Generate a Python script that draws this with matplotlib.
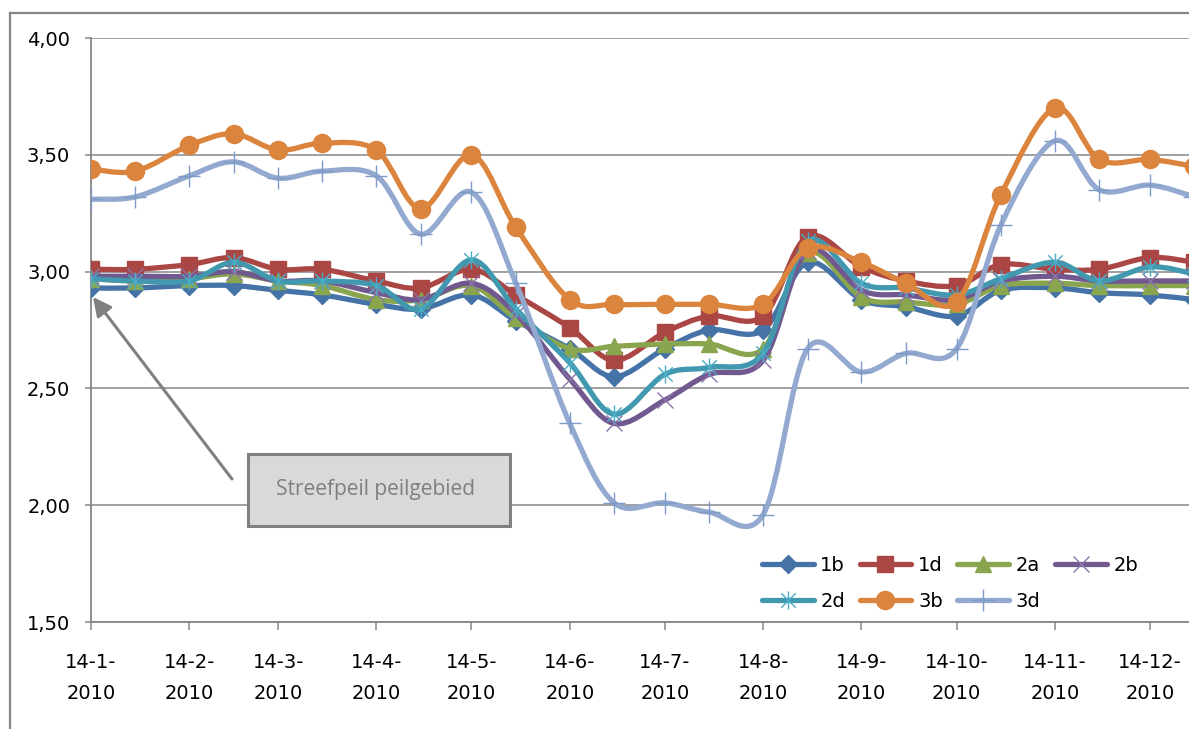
import numpy as np
import matplotlib
matplotlib.use("Agg")
import matplotlib.pyplot as plt
import matplotlib.dates as mdates
from matplotlib.path import Path
from matplotlib.patches import PathPatch, Rectangle
from matplotlib.lines import Line2D
from datetime import datetime, timedelta

# Measurement dates (14th and end of each month)
dates = ["2010-01-14", "2010-01-28", "2010-02-14", "2010-02-28", "2010-03-14", "2010-03-28",
         "2010-04-14", "2010-04-28", "2010-05-14", "2010-05-28", "2010-06-14", "2010-06-28",
         "2010-07-14", "2010-07-28", "2010-08-14", "2010-08-28", "2010-09-14", "2010-09-28",
         "2010-10-14", "2010-10-28", "2010-11-14", "2010-11-28", "2010-12-14", "2010-12-28"]

# Water levels per measuring point
level_1b = [2.93, 2.93, 2.94, 2.94, 2.92, 2.90, 2.86, 2.84, 2.90, 2.79, 2.67, 2.55,
            2.67, 2.75, 2.75, 3.04, 2.88, 2.85, 2.81, 2.92, 2.93, 2.91, 2.90, 2.88]
level_1d = [3.01, 3.01, 3.03, 3.06, 3.01, 3.01, 2.96, 2.93, 3.01, 2.90, 2.76, 2.62,
            2.74, 2.81, 2.81, 3.15, 3.02, 2.96, 2.94, 3.03, 3.01, 3.01, 3.06, 3.04]
level_2a = [2.97, 2.96, 2.97, 2.99, 2.96, 2.94, 2.88, 2.88, 2.94, 2.80, 2.67, 2.68,
            2.69, 2.69, 2.67, 3.08, 2.89, 2.87, 2.86, 2.94, 2.95, 2.94, 2.94, 2.94]
level_2b = [2.98, 2.98, 2.98, 3.00, 2.96, 2.96, 2.91, 2.88, 2.95, 2.82, 2.54, 2.35,
            2.45, 2.56, 2.62, 3.09, 2.92, 2.90, 2.88, 2.96, 2.98, 2.96, 2.96, 2.96]
level_2d = [2.97, 2.96, 2.96, 3.04, 2.96, 2.96, 2.94, 2.84, 3.05, 2.84, 2.61, 2.39,
            2.56, 2.59, 2.65, 3.13, 2.95, 2.93, 2.90, 2.97, 3.04, 2.96, 3.02, 2.99]
level_3b = [3.44, 3.43, 3.54, 3.59, 3.52, 3.55, 3.52, 3.27, 3.50, 3.19, 2.88, 2.86,
            2.86, 2.86, 2.86, 3.10, 3.04, 2.95, 2.87, 3.33, 3.70, 3.48, 3.48, 3.45]
level_3d = [3.31, 3.32, 3.41, 3.47, 3.40, 3.43, 3.41, 3.16, 3.34, 2.95, 2.35, 2.01,
            2.01, 1.97, 1.96, 2.67, 2.57, 2.65, 2.67, 3.20, 3.56, 3.35, 3.37, 3.32]

series_names = ["1b", "1d", "2a", "2b", "2d", "3b", "3d"]
tick_dates = ["2010-%02d-14" % m for m in range(1, 13)]
y_ticks = [1.50, 2.00, 2.50, 3.00, 3.50, 4.00]
callout_text = "Streefpeil peilgebied"

# Asterisk marker: vertical stroke plus two diagonals
star_path = Path(
    [(0, -1), (0, 1), (-0.8, -0.8), (0.8, 0.8), (-0.8, 0.8), (0.8, -0.8)],
    [Path.MOVETO, Path.LINETO, Path.MOVETO, Path.LINETO, Path.MOVETO, Path.LINETO])

styles = {
    "1b": dict(color="#4572A7", marker="D", ms=9.5, mfc="#4572A7", mec="#4572A7", mew=1),
    "1d": dict(color="#AA4643", marker="s", ms=12, mfc="#AA4643", mec="#AA4643", mew=1),
    "2a": dict(color="#89A54E", marker="^", ms=12, mfc="#89A54E", mec="#89A54E", mew=1),
    "2b": dict(color="#71588F", marker="x", ms=12, mfc="none", mec="#8A74AA", mew=1.0),
    "2d": dict(color="#4198AF", marker=star_path, ms=13, mfc="none", mec="#4AACC6", mew=1.0),
    "3b": dict(color="#DB843D", marker="o", ms=13, mfc="#DB843D", mec="#DB843D", mew=1),
    "3d": dict(color="#93A9CF", marker="+", ms=16, mfc="none", mec="#7E9BC8", mew=1.0),
}
values = {"1b": level_1b, "1d": level_1d, "2a": level_2a, "2b": level_2b,
          "2d": level_2d, "3b": level_3b, "3d": level_3d}

GRAY = "#868686"
LW = 3.8
FS = 14
plt.rcParams["font.family"] = ["DejaVu Sans"]

W, H = 1189, 729
fig = plt.figure(figsize=(W / 100, H / 100), dpi=100)
ax = fig.add_axes([91 / W, (H - 622) / H, (W - 91) / W, (622 - 38) / H])


def smooth_path(xs, ys):
    """Cubic Bezier path through the points (Catmull-Rom style tangents)."""
    pts = np.column_stack([xs, ys])
    n = len(pts)
    verts = [pts[0]]
    codes = [Path.MOVETO]
    for i in range(n - 1):
        p0 = pts[i - 1] if i > 0 else pts[i]
        p1, p2 = pts[i], pts[i + 1]
        p3 = pts[i + 2] if i + 2 < n else pts[i + 1]
        verts += [p1 + (p2 - p0) / 6, p2 - (p3 - p1) / 6, p2]
        codes += [Path.CURVE4] * 3
    return Path(verts, codes)


x = mdates.date2num([datetime.strptime(d, "%Y-%m-%d") for d in dates])
handles = {}
for k, name in enumerate(series_names):
    st = styles[name]
    y = np.asarray(values[name])
    patch = PathPatch(smooth_path(x, y), facecolor="none", edgecolor=st["color"],
                      lw=LW, capstyle="round", joinstyle="round", zorder=3 + 2 * k)
    ax.add_patch(patch)
    ax.plot(x, y, linestyle="none", marker=st["marker"], ms=st["ms"],
            mfc=st["mfc"], mec=st["mec"], mew=st["mew"], zorder=4 + 2 * k)
    handles[name] = Line2D([], [], color=st["color"], lw=LW, marker=st["marker"],
                           ms=st["ms"], mfc=st["mfc"], mec=st["mec"], mew=st["mew"],
                           solid_capstyle="round")

start = datetime(2010, 1, 14)
ax.set_xlim(mdates.date2num(start), mdates.date2num(start + timedelta(days=346.3)))
ax.set_ylim(1.5, 4.0)

tick_dt = [datetime.strptime(d, "%Y-%m-%d") for d in tick_dates]
ax.set_xticks(mdates.date2num(tick_dt))
ax.set_xticklabels(["%d-%d-\n%d" % (t.day, t.month, t.year) for t in tick_dt],
                   linespacing=1.85)
ax.set_yticks(y_ticks)
ax.set_yticklabels([("%.2f" % v).replace(".", ",") for v in y_ticks])

ax.tick_params(axis="x", direction="out", length=6, width=1.1, color=GRAY,
               labelsize=FS, pad=16)
ax.tick_params(axis="y", direction="out", length=4.5, width=1.1, color=GRAY,
               labelsize=FS, pad=10.5)

for spine in ("top", "right"):
    ax.spines[spine].set_visible(False)
for spine in ("left", "bottom"):
    ax.spines[spine].set_color(GRAY)
    ax.spines[spine].set_linewidth(1.3)

ax.yaxis.grid(True, color=GRAY, lw=1.1)
ax.set_axisbelow(True)
ax.set_facecolor("none")

# Legend laid out row-wise in two rows of four
order = ["1b", "2d", "1d", "3b", "2a", "3d", "2b"]
leg = ax.legend([handles[n] for n in order], order, ncol=4, frameon=False,
                loc="upper left", bbox_to_anchor=(762 / W, 1 - 556 / H),
                bbox_transform=fig.transFigure, fontsize=FS, borderpad=0,
                borderaxespad=0, handlelength=2.65, handletextpad=0.35,
                columnspacing=0.75, labelspacing=0.85)

# Outer chart border (left and top edges)
fig.add_artist(Line2D([9.5 / W, 9.5 / W], [0, 1 - 13 / H], transform=fig.transFigure,
                      color=GRAY, lw=1.6))
fig.add_artist(Line2D([9.5 / W, 1], [1 - 13 / H, 1 - 13 / H], transform=fig.transFigure,
                      color=GRAY, lw=1.6))

# Callout box with arrow to the target level
fig.add_artist(Rectangle((248 / W, (H - 526) / H), 262 / W, 72 / H,
                         transform=fig.transFigure, facecolor="#D9D9D9",
                         edgecolor="#808080", lw=2.2, zorder=20))
fig.text(376 / W, 1 - 490 / H, callout_text, ha="center", va="center",
         fontsize=15, color="#7F7F7F", family=["Open Sans", "DejaVu Sans"], zorder=21)
ax.annotate("", xy=(93, H - 297), xycoords="figure pixels",
            xytext=(232, H - 479), textcoords="figure pixels",
            arrowprops=dict(arrowstyle="-|>", color="#808080", lw=2.2,
                            mutation_scale=28, shrinkA=0, shrinkB=0), zorder=20)

fig.savefig("out.png", dpi=100)
